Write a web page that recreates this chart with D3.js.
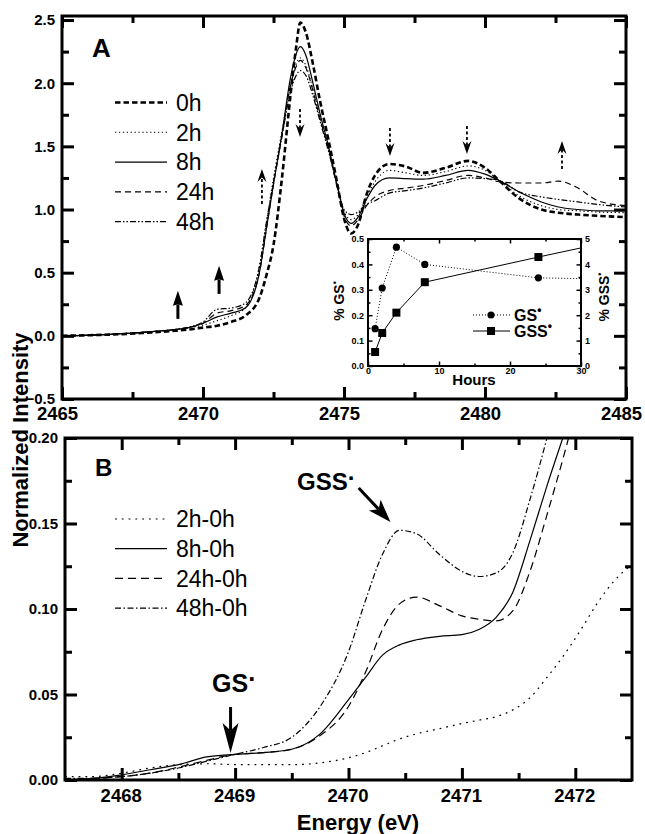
<!DOCTYPE html>
<html>
<head>
<meta charset="utf-8">
<title>GS / GSS XANES</title>
<script src="https://cdn.jsdelivr.net/npm/d3@7/dist/d3.min.js"></script>
<style>
  body { margin: 0; background: #fff; }
</style>
</head>
<body>
<div id="chart"></div>
<script>

// ---- panel A : normalized spectra ----
var energyA = [2465, 2466, 2467, 2468, 2469, 2469.5, 2470, 2470.5, 2471, 2471.5,
               2472, 2472.25, 2472.5, 2472.8, 2473.1, 2473.3, 2473.45, 2473.65, 2473.9, 2474.15,
               2474.45, 2474.75, 2475, 2475.25, 2475.5, 2475.8, 2476.1, 2476.6, 2477.2, 2477.8,
               2478.6, 2479.4, 2480, 2480.5, 2481.2, 2482, 2482.6, 2483.3, 2484, 2485];
var h0  = [0, 0.005, 0.012, 0.025, 0.04, 0.05, 0.065, 0.08, 0.11, 0.16,
           0.3, 0.48, 0.72, 1.25, 1.9, 2.28, 2.48, 2.4, 2.15, 1.86,
           1.55, 1.22, 0.93, 0.81, 0.88, 1.12, 1.27, 1.36, 1.34, 1.29,
           1.33, 1.385, 1.33, 1.23, 1.09, 1.0, 0.975, 0.96, 0.95, 0.94];
var h2  = [0, 0.005, 0.015, 0.03, 0.05, 0.065, 0.085, 0.12, 0.16, 0.22,
           0.55, 0.9, 1.25, 1.62, 1.98, 2.15, 2.2, 2.14, 1.95, 1.73,
           1.48, 1.2, 0.99, 0.92, 0.96, 1.1, 1.22, 1.31, 1.29, 1.27,
           1.30, 1.345, 1.31, 1.23, 1.11, 1.03, 1.0, 0.99, 0.98, 0.975];
var h8  = [0, 0.005, 0.015, 0.03, 0.05, 0.065, 0.1, 0.15, 0.18, 0.22,
           0.5, 0.85, 1.2, 1.6, 2.04, 2.23, 2.29, 2.22, 2.0, 1.76,
           1.5, 1.2, 0.97, 0.89, 0.94, 1.08, 1.19, 1.25, 1.245, 1.24,
           1.27, 1.31, 1.28, 1.23, 1.14, 1.06, 1.02, 1.0, 0.99, 0.99];
var h24 = [0, 0.005, 0.015, 0.03, 0.05, 0.065, 0.1, 0.18, 0.2, 0.24,
           0.5, 0.85, 1.2, 1.58, 1.98, 2.13, 2.18, 2.12, 1.94, 1.72,
           1.48, 1.18, 0.95, 0.87, 0.92, 1.03, 1.1, 1.15, 1.17, 1.19,
           1.23, 1.27, 1.25, 1.22, 1.21, 1.21, 1.225, 1.17, 1.07, 1.03];
var h48 = [0, 0.005, 0.015, 0.03, 0.05, 0.07, 0.11, 0.21, 0.22, 0.26,
           0.55, 0.9, 1.22, 1.58, 1.93, 2.06, 2.1, 2.06, 1.9, 1.7,
           1.46, 1.2, 1.0, 0.96, 0.98, 1.04, 1.07, 1.13, 1.15, 1.17,
           1.21, 1.25, 1.245, 1.23, 1.14, 1.1, 1.08, 1.06, 1.04, 1.02];
var labelsA = ["0h", "2h", "8h", "24h", "48h"];

// arrows in panel A : [energy, from, to, kind]
var arrowsA = [
  [2469.11, 0.134, 0.356, "solid"],
  [2470.57, 0.332, 0.554, "solid"],
  [2472.09, 1.044, 1.321, "dash"],
  [2473.44, 1.796, 1.574, "dash"],
  [2476.63, 1.646, 1.424, "dash"],
  [2479.36, 1.661, 1.44, "dash"],
  [2482.73, 1.321, 1.543, "dash"]
];

// ---- inset : radical percentages ----
var hours  = [1, 2, 4, 8, 24, 48];
var pctGS  = [0.147, 0.307, 0.468, 0.40, 0.347, 0.335];
var pctGSS = [0.55, 1.3, 2.1, 3.3, 4.29, 5.73];

// ---- panel B : difference spectra ----
var energyB = [2467.5, 2467.75, 2468, 2468.25, 2468.5, 2468.75, 2469, 2469.25, 2469.5, 2469.75,
               2470, 2470.15, 2470.3, 2470.45, 2470.6, 2470.8, 2471, 2471.15, 2471.3, 2471.45,
               2471.6, 2471.75, 2471.9, 2472.05, 2472.2, 2472.35, 2472.5];
var d2  = [0.002, 0.002, 0.004, 0.007, 0.009, 0.0095, 0.009, 0.009, 0.009, 0.01,
           0.013, 0.016, 0.02, 0.024, 0.027, 0.03, 0.033, 0.035, 0.037, 0.041,
           0.048, 0.06, 0.073, 0.088, 0.104, 0.117, 0.126];
var d8  = [0.0, 0.001, 0.003, 0.006, 0.009, 0.0135, 0.015, 0.016, 0.018, 0.027,
           0.047, 0.06, 0.073, 0.079, 0.082, 0.084, 0.085, 0.088, 0.095, 0.11,
           0.14, 0.172, 0.202, 0.232, 0.262, 0.292, 0.322];
var d24 = [0.0, 0.001, 0.002, 0.004, 0.0075, 0.0115, 0.015, 0.016, 0.018, 0.026,
           0.043, 0.063, 0.088, 0.103, 0.107, 0.102, 0.096, 0.094, 0.093, 0.099,
           0.122, 0.155, 0.19, 0.228, 0.266, 0.304, 0.342];
var d48 = [0.001, 0.001, 0.002, 0.004, 0.007, 0.011, 0.015, 0.019, 0.025, 0.043,
           0.075, 0.105, 0.132, 0.146, 0.144, 0.132, 0.122, 0.119, 0.121, 0.133,
           0.164, 0.2, 0.24, 0.28, 0.32, 0.36, 0.4];
var labelsB = ["2h-0h", "8h-0h", "24h-0h", "48h-0h"];

var fontFam = "'Liberation Sans', Arial, Helvetica, sans-serif";

var svg = d3.select("#chart").append("svg")
  .attr("width", 645)
  .attr("height", 834)
  .style("display", "block")
  .style("font-family", fontFam);

svg.append("rect").attr("width", 645).attr("height", 834).attr("fill", "#fff");

var defs = svg.append("defs");
function addClip(id, x, y) {
  defs.append("clipPath").attr("id", id).append("rect")
    .attr("x", x.range()[0]).attr("y", y.range()[1])
    .attr("width", x.range()[1] - x.range()[0])
    .attr("height", y.range()[0] - y.range()[1]);
}

function addAxis(g, axis, tx, ty, fs, tw, shift) {
  var a = g.append("g").attr("transform", "translate(" + tx + "," + ty + ")").call(axis);
  a.select(".domain").remove();
  a.selectAll(".tick line").attr("stroke", "#000").attr("stroke-width", tw);
  a.selectAll(".tick text")
    .attr("fill", "#000")
    .attr("dx", shift || 0)
    .style("font-size", fs + "px")
    .style("font-weight", "bold")
    .style("font-family", fontFam);
  return a;
}

// boxed axes with inward ticks on all four sides
function frame(g, x, y, o) {
  var x0 = x.range()[0], x1 = x.range()[1], y0 = y.range()[0], y1 = y.range()[1];
  addAxis(g, d3.axisBottom(x).tickValues(o.xMaj).tickSizeInner(-o.big).tickSizeOuter(0).tickPadding(o.xPad).tickFormat(o.xFmt), 0, y0, o.xfs, o.tw, o.xShift);
  addAxis(g, d3.axisBottom(x).tickValues(o.xMin).tickSizeInner(-o.small).tickSizeOuter(0).tickFormat(""), 0, y0, o.xfs, o.tw);
  addAxis(g, d3.axisTop(x).tickValues(o.xMaj).tickSizeInner(-o.big).tickSizeOuter(0).tickFormat(""), 0, y1, o.xfs, o.tw);
  addAxis(g, d3.axisTop(x).tickValues(o.xMin).tickSizeInner(-o.small).tickSizeOuter(0).tickFormat(""), 0, y1, o.xfs, o.tw);
  addAxis(g, d3.axisLeft(y).tickValues(o.yMaj).tickSizeInner(-o.big).tickSizeOuter(0).tickPadding(o.yPad).tickFormat(o.yFmt), x0, 0, o.yfs, o.tw);
  addAxis(g, d3.axisLeft(y).tickValues(o.yMin).tickSizeInner(-o.small).tickSizeOuter(0).tickFormat(""), x0, 0, o.yfs, o.tw);
  var yr = o.yRight || y;
  addAxis(g, d3.axisRight(yr).tickValues(o.yrMaj || o.yMaj).tickSizeInner(-o.big).tickSizeOuter(0).tickPadding(o.yPad).tickFormat(o.yrFmt || ""), x1, 0, o.yfs, o.tw);
  addAxis(g, d3.axisRight(yr).tickValues(o.yrMin || o.yMin).tickSizeInner(-o.small).tickSizeOuter(0).tickFormat(""), x1, 0, o.yfs, o.tw);
  g.append("rect")
    .attr("x", x0).attr("y", y1)
    .attr("width", x1 - x0).attr("height", y0 - y1)
    .attr("fill", "none").attr("stroke", "#000").attr("stroke-width", o.fw);
}

function arrow(g, p0, p1, o) {
  var dx = p1[0] - p0[0], dy = p1[1] - p0[1], len = Math.sqrt(dx * dx + dy * dy);
  var ux = dx / len, uy = dy / len, nx = -uy, ny = ux;
  var bx = p1[0] - ux * o.L, by = p1[1] - uy * o.L;
  var mx = p1[0] - ux * o.L * (1 - o.notch), my = p1[1] - uy * o.L * (1 - o.notch);
  g.append("line")
    .attr("x1", p0[0]).attr("y1", p0[1]).attr("x2", mx).attr("y2", my)
    .attr("stroke", "#000").attr("stroke-width", o.w)
    .attr("stroke-dasharray", o.dash || null);
  g.append("path")
    .attr("d", "M" + p1[0] + "," + p1[1] +
               "L" + (bx + nx * o.W) + "," + (by + ny * o.W) +
               "L" + mx + "," + my +
               "L" + (bx - nx * o.W) + "," + (by - ny * o.W) + "Z")
    .attr("fill", "#000");
}

// =================== panel A ===================
var xA = d3.scaleLinear().domain([2465, 2485]).range([62, 626]);
var yA = d3.scaleLinear().domain([-0.5, 2.532]).range([399, 16]);
addClip("clipA", xA, yA);

var styleA = [
  {w: 2.6, dash: "5.5,3"},
  {w: 1.1, dash: "1.3,2.6"},
  {w: 1.2, dash: null},
  {w: 1.2, dash: "6,4"},
  {w: 1.2, dash: "6,2,1.5,2,1.5,2"}
];

var gA = svg.append("g");
var lineA = d3.line()
  .x(function(d, i) { return xA(energyA[i]); })
  .y(function(d) { return yA(d); })
  .curve(d3.curveMonotoneX);

gA.append("g").attr("clip-path", "url(#clipA)")
  .selectAll("path")
  .data([h0, h2, h8, h24, h48])
  .enter()
  .append("path")
  .attr("d", lineA)
  .attr("fill", "none")
  .attr("stroke", "#000")
  .attr("stroke-width", function(d, i) { return styleA[i].w; })
  .attr("stroke-dasharray", function(d, i) { return styleA[i].dash; });

arrowsA.forEach(function(a) {
  var p0 = [xA(a[0]), yA(a[1])], p1 = [xA(a[0]), yA(a[2])];
  if (a[3] == "solid") arrow(gA, p0, p1, {w: 3, L: 15, W: 5, notch: 0.1});
  else arrow(gA, p0, p1, {w: 1.8, dash: "3,2.5", L: 13, W: 4.5, notch: 0.35});
});

frame(gA, xA, yA, {
  xMaj: [2465, 2470, 2475, 2480, 2485], xMin: [2467.5, 2472.5, 2477.5, 2482.5],
  yMaj: [-0.5, 0, 0.5, 1, 1.5, 2, 2.5], yMin: [-0.25, 0.25, 0.75, 1.25, 1.75, 2.25],
  big: 12, small: 7, tw: 3, fw: 3, xfs: 18.5, yfs: 15, xPad: 8, yPad: 7, xShift: -5,
  xFmt: d3.format("d"), yFmt: d3.format(".1f")
});

gA.append("text").attr("x", 92).attr("y", 57)
  .style("font-size", "26px").style("font-weight", "bold").text("A");

// legend A
labelsA.forEach(function(l, i) {
  var ly = 102.5 + i * 29.8;
  gA.append("line").attr("x1", 115).attr("x2", 167).attr("y1", ly).attr("y2", ly)
    .attr("stroke", "#000").attr("stroke-width", styleA[i].w)
    .attr("stroke-dasharray", styleA[i].dash);
  gA.append("text").attr("x", 176).attr("y", ly + 8.3)
    .style("font-size", "23px").text(l);
});

// =================== inset ===================
var xI = d3.scaleLinear().domain([0, 30]).range([368, 581]);
var yIL = d3.scaleLinear().domain([0, 0.5]).range([366, 239]);
var yIR = d3.scaleLinear().domain([0, 5]).range([366, 239]);
addClip("clipI", xI, yIL);

var gI = svg.append("g");
gI.append("rect").attr("x", 368).attr("y", 239).attr("width", 213).attr("height", 127).attr("fill", "#fff");

var gIc = gI.append("g").attr("clip-path", "url(#clipI)");
gIc.append("path")
  .attr("d", d3.line().x(function(d, i) { return xI(hours[i]); }).y(function(d) { return yIL(d); })(pctGS))
  .attr("fill", "none").attr("stroke", "#000").attr("stroke-width", 1).attr("stroke-dasharray", "1,2");
gIc.append("path")
  .attr("d", d3.line().x(function(d, i) { return xI(hours[i]); }).y(function(d) { return yIR(d); })(pctGSS))
  .attr("fill", "none").attr("stroke", "#000").attr("stroke-width", 1);
gIc.selectAll("circle").data(pctGS).enter().append("circle")
  .attr("cx", function(d, i) { return xI(hours[i]); })
  .attr("cy", function(d) { return yIL(d); })
  .attr("r", 3.6).attr("fill", "#000");
gIc.selectAll("rect.sq").data(pctGSS).enter().append("rect").attr("class", "sq")
  .attr("x", function(d, i) { return xI(hours[i]) - 4; })
  .attr("y", function(d) { return yIR(d) - 4; })
  .attr("width", 8).attr("height", 8).attr("fill", "#000");

frame(gI, xI, yIL, {
  xMaj: [0, 10, 20, 30], xMin: [5, 15, 25],
  yMaj: [0, 0.1, 0.2, 0.3, 0.4, 0.5], yMin: [0.05, 0.15, 0.25, 0.35, 0.45],
  yRight: yIR, yrMaj: [0, 1, 2, 3, 4, 5], yrMin: [0.5, 1.5, 2.5, 3.5, 4.5],
  big: 4.5, small: 2.5, tw: 1.5, fw: 2, xfs: 9, yfs: 9, xPad: 2, yPad: 4,
  xFmt: d3.format("d"), yFmt: d3.format(".1f"), yrFmt: d3.format("d")
});

gI.append("text").attr("x", 474).attr("y", 385).attr("text-anchor", "middle")
  .style("font-size", "15px").style("font-weight", "bold").text("Hours");

var tl = gI.append("text").attr("transform", "translate(344,301) rotate(-90)").attr("text-anchor", "middle")
  .style("font-size", "14px").style("font-weight", "bold");
tl.append("tspan").text("% GS");
tl.append("tspan").attr("dy", -6).style("font-size", "9px").text("•");

var tr = gI.append("text").attr("transform", "translate(609,297) rotate(-90)").attr("text-anchor", "middle")
  .style("font-size", "14px").style("font-weight", "bold");
tr.append("tspan").text("% GSS");
tr.append("tspan").attr("dy", -6).style("font-size", "9px").text("•");

// inset legend
gI.append("line").attr("x1", 473).attr("x2", 510).attr("y1", 315).attr("y2", 315)
  .attr("stroke", "#000").attr("stroke-width", 1).attr("stroke-dasharray", "1,2");
gI.append("circle").attr("cx", 491).attr("cy", 315).attr("r", 3.6).attr("fill", "#000");
gI.append("line").attr("x1", 473).attr("x2", 510).attr("y1", 331).attr("y2", 331)
  .attr("stroke", "#000").attr("stroke-width", 1);
gI.append("rect").attr("x", 487).attr("y", 327).attr("width", 8).attr("height", 8).attr("fill", "#000");
[["GS", 321], ["GSS", 337]].forEach(function(l) {
  var t = gI.append("text").attr("x", 514).attr("y", l[1])
    .style("font-size", "16px").style("font-weight", "bold");
  t.append("tspan").text(l[0]);
  t.append("tspan").attr("dy", -7).style("font-size", "12px").text("•");
});

// =================== panel B ===================
var xB = d3.scaleLinear().domain([2467.5, 2472.5]).range([65, 632]);
var yB = d3.scaleLinear().domain([0, 0.2]).range([780, 438]);
addClip("clipB", xB, yB);

var styleB = [
  {w: 1.2, dash: "1.8,5"},
  {w: 1.2, dash: null},
  {w: 1.2, dash: "8,5"},
  {w: 1.2, dash: "6,2.5,1.5,2.5"}
];

var gB = svg.append("g");
var lineB = d3.line()
  .x(function(d, i) { return xB(energyB[i]); })
  .y(function(d) { return yB(d); })
  .curve(d3.curveMonotoneX);

gB.append("g").attr("clip-path", "url(#clipB)")
  .selectAll("path")
  .data([d2, d8, d24, d48])
  .enter()
  .append("path")
  .attr("d", lineB)
  .attr("fill", "none")
  .attr("stroke", "#000")
  .attr("stroke-width", function(d, i) { return styleB[i].w; })
  .attr("stroke-dasharray", function(d, i) { return styleB[i].dash; });

frame(gB, xB, yB, {
  xMaj: [2468, 2469, 2470, 2471, 2472], xMin: [2468.5, 2469.5, 2470.5, 2471.5],
  yMaj: [0, 0.05, 0.1, 0.15, 0.2], yMin: [0.025, 0.075, 0.125, 0.175],
  big: 12, small: 7, tw: 3, fw: 3, xfs: 18.5, yfs: 15, xPad: 9, yPad: 7, xShift: -1,
  xFmt: d3.format("d"), yFmt: d3.format(".2f")
});

gB.append("text").attr("x", 95).attr("y", 476)
  .style("font-size", "24px").style("font-weight", "bold").text("B");

labelsB.forEach(function(l, i) {
  var ly = 519 + i * 29.7;
  gB.append("line").attr("x1", 115).attr("x2", 167).attr("y1", ly).attr("y2", ly)
    .attr("stroke", "#000").attr("stroke-width", styleB[i].w)
    .attr("stroke-dasharray", styleB[i].dash);
  gB.append("text").attr("x", 176).attr("y", ly + 8.3)
    .style("font-size", "23px").text(l);
});

// radical markers
arrow(gB, [xB(2468.96), yB(0.0427)], [xB(2468.96), yB(0.0158)], {w: 3, L: 30, W: 8, notch: 0.25});
arrow(gB, [xB(2470.09), yB(0.1708)], [xB(2470.37), yB(0.1509)], {w: 3, L: 23, W: 8, notch: 0.25});

var gsT = gB.append("text").attr("x", 212).attr("y", 692)
  .style("font-size", "25px").style("font-weight", "bold");
gsT.append("tspan").text("GS");
gsT.append("tspan").attr("dy", -4).text("·");

var gssT = gB.append("text").attr("x", 297).attr("y", 490)
  .style("font-size", "24px").style("font-weight", "bold");
gssT.append("tspan").text("GSS");
gssT.append("tspan").attr("dy", -4).text("·");

// shared labels
svg.append("text").attr("transform", "translate(28,440) rotate(-90)")
  .attr("text-anchor", "middle")
  .style("font-size", "22px").style("font-weight", "bold")
  .text("Normalized Intensity");

svg.append("text").attr("x", 358).attr("y", 830).attr("text-anchor", "middle")
  .style("font-size", "22px").style("font-weight", "bold")
  .text("Energy (eV)");

</script>
</body>
</html>
